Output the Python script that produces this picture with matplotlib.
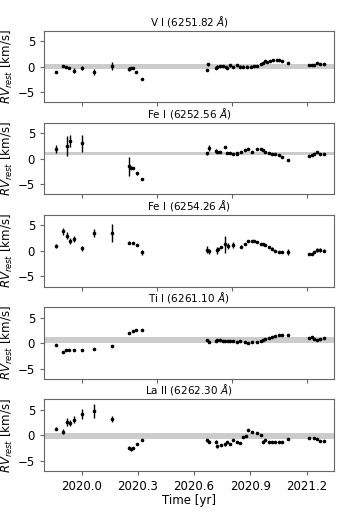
import numpy as np
import matplotlib.pyplot as plt

# line names shown as panel titles
titles = ['V I (6251.82 $\\AA$)', 'Fe I (6252.56 $\\AA$)', 'Fe I (6254.26 $\\AA$)',
          'Ti I (6261.10 $\\AA$)', 'La II (6262.30 $\\AA$)']

# grey band (low, high) for each line
bands = [(-0.55, 0.45), (0.65, 1.4), (0.72, 0.85), (0.0, 1.1), (-0.65, 0.5)]

# V I
t_v = [2019.861, 2019.899, 2019.916, 2019.934, 2019.959, 2020.000, 2020.068, 2020.160,
       2020.254, 2020.263, 2020.272, 2020.292, 2020.320,
       2020.670, 2020.674, 2020.716, 2020.724, 2020.738, 2020.752, 2020.770, 2020.775,
       2020.791, 2020.809, 2020.830, 2020.844, 2020.862, 2020.884, 2020.901, 2020.919,
       2020.937, 2020.955, 2020.969, 2020.978, 2020.987, 2021.004, 2021.022, 2021.040,
       2021.051, 2021.070, 2021.102, 2021.214, 2021.227, 2021.239, 2021.253, 2021.271,
       2021.294]
rv_v = [-1.0, 0.1, -0.1, -0.2, -0.8, -0.3, -1.0, 0.1,
        -0.5, -0.3, -0.3, -1.0, -2.4,
        -0.6, 0.4, -0.3, 0.0, 0.1, 0.1, -0.1, -0.3,
        0.2, -0.1, 0.3, 0.0, 0.0, 0.0, 0.0, 0.1,
        0.1, 0.5, 0.7, 1.1, 0.9, 1.05, 1.2, 1.3,
        1.2, 1.05, 0.7, 0.3, 0.3, 0.35, 0.65, 0.5,
        0.45]
err_v = [0.2, 0.2, 0.2, 0.2, 0.5, 0.4, 0.6, 0.8,
         0.4, 0.2, 0.2, 0.2, 0.2,
         0.2, 0.3] + [0.2] * 31

# Fe I 6252
t_fe1 = [2019.861, 2019.920, 2019.938, 2020.000, 2020.254, 2020.261, 2020.272, 2020.293,
         2020.320,
         2020.670, 2020.677, 2020.716, 2020.724, 2020.738, 2020.766, 2020.773, 2020.791,
         2020.809, 2020.827, 2020.830, 2020.848, 2020.871, 2020.889, 2020.907, 2020.937,
         2020.955, 2020.969, 2020.980, 2020.997, 2021.013, 2021.033, 2021.051, 2021.070,
         2021.102, 2021.214, 2021.227, 2021.239, 2021.253, 2021.271, 2021.294]
rv_fe1 = [1.9, 2.5, 3.4, 3.0, -1.5, -1.8, -1.8, -2.9,
          -3.9,
          1.1, 2.1, 1.6, 1.3, 1.3, 2.2, 1.1, 1.1,
          1.0, 1.2, 1.0, 1.4, 1.75, 1.9, 1.4, 1.95,
          1.95, 1.75, 1.4, 1.2, 1.0, 0.9, 0.65, 0.26,
          -0.2, 0.6, 0.7, 0.85, 1.3, 1.0, 0.9]
err_fe1 = [0.8, 2.0, 1.2, 1.7, 1.8, 0.3, 0.2, 0.2,
           0.2,
           0.3, 0.6] + [0.2] * 29

# Fe I 6254
t_fe2 = [2019.861, 2019.899, 2019.920, 2019.938, 2019.959, 2020.000, 2020.068, 2020.160,
         2020.254, 2020.272, 2020.293, 2020.320,
         2020.670, 2020.677, 2020.720, 2020.729, 2020.741, 2020.766, 2020.780, 2020.809,
         2020.848, 2020.871, 2020.889, 2020.907, 2020.919, 2020.937, 2020.955, 2020.969,
         2020.980, 2020.997, 2021.013, 2021.033, 2021.051, 2021.070, 2021.102, 2021.214,
         2021.227, 2021.239, 2021.253, 2021.271, 2021.294]
rv_fe2 = [1.0, 3.8, 3.0, 2.0, 2.3, 0.5, 3.5, 3.5,
          1.6, 1.5, 1.1, -0.3,
          0.2, -0.1, 0.1, 0.3, 0.7, 1.3, 0.9, 1.2,
          0.85, 1.3, 1.85, 2.0, 2.0, 1.8, 1.4, 1.25,
          1.1, 0.8, 0.46, 0.0, -0.25, -0.3, -0.3, -0.6,
          -0.6, -0.3, 0.1, 0.2, 0.0]
err_fe2 = [0.4, 0.6, 0.6, 0.6, 0.6, 0.5, 0.8, 1.8,
           0.3, 0.2, 0.2, 0.5,
           0.7, 0.5, 0.7, 0.3, 0.2, 1.7, 0.6, 0.6,
           0.2, 0.2, 0.2, 0.2, 0.2, 0.2, 0.2, 0.2,
           0.2, 0.2, 0.2, 0.2, 0.2, 0.2, 0.6, 0.2,
           0.2, 0.2, 0.4, 0.4, 0.3]

# Ti I
t_ti = [2019.861, 2019.899, 2019.916, 2019.934, 2019.959, 2020.000, 2020.068, 2020.160,
        2020.254, 2020.272, 2020.292, 2020.320,
        2020.670, 2020.677, 2020.716, 2020.724, 2020.738, 2020.752, 2020.766, 2020.780,
        2020.791, 2020.809, 2020.830, 2020.844, 2020.871, 2020.889, 2020.907, 2020.937,
        2020.955, 2020.969, 2020.980, 2020.997, 2021.013, 2021.033, 2021.051, 2021.070,
        2021.102, 2021.214, 2021.227, 2021.239, 2021.253, 2021.271, 2021.294]
rv_ti = [-0.33, -1.8, -1.4, -1.4, -1.4, -1.4, -1.13, -0.6,
         2.0, 2.3, 2.6, 2.6,
         0.67, 0.27, 0.47, 0.67, 0.6, 0.47, 0.33, 0.4,
         0.47, 0.33, 0.27, 0.33, 0.27, 0.0, 0.2, 0.2,
         0.47, 0.53, 0.87, 1.0, 1.13, 1.33, 1.53, 1.6,
         1.6, 1.0, 1.2, 0.8, 0.53, 0.87, 0.93]
err_ti = [0.2] * len(t_ti)

# La II
t_la = [2019.861, 2019.899, 2019.920, 2019.938, 2019.959, 2020.000, 2020.068, 2020.160,
        2020.254, 2020.261, 2020.272, 2020.293, 2020.320,
        2020.670, 2020.677, 2020.716, 2020.724, 2020.741, 2020.766, 2020.773, 2020.791,
        2020.809, 2020.830, 2020.844, 2020.862, 2020.876, 2020.889, 2020.907, 2020.937,
        2020.955, 2020.969, 2020.980, 2020.997, 2021.013, 2021.033, 2021.051, 2021.070,
        2021.102, 2021.214, 2021.239, 2021.253, 2021.271, 2021.294]
rv_la = [1.3, 0.7, 2.6, 2.4, 3.0, 4.1, 4.8, 3.2,
         -2.5, -2.8, -2.5, -1.8, -0.9,
         -1.0, -1.3, -1.3, -2.2, -2.0, -1.8, -1.3, -1.8,
         -0.9, -1.3, -1.6, -0.26, -0.13, 1.05, 0.7, 0.4,
         0.0, -1.3, -0.9, -1.25, -1.25, -1.25, -1.3, -1.3,
         -0.66, -0.6, -0.5, -0.8, -1.2, -1.2]
err_la = [0.3, 0.5, 0.7, 0.6, 0.7, 1.0, 1.4, 0.6,
          0.3, 0.2, 0.2, 0.2, 0.2,
          0.3, 0.3, 0.3, 0.3, 0.2, 0.3, 0.2, 0.2,
          0.2, 0.2, 0.2, 0.2, 0.2, 0.2, 0.2, 0.2,
          0.2, 0.3, 0.2, 0.2, 0.2, 0.2, 0.2, 0.2,
          0.2, 0.2, 0.2, 0.2, 0.2, 0.2]

series = [(t_v, rv_v, err_v), (t_fe1, rv_fe1, err_fe1), (t_fe2, rv_fe2, err_fe2),
          (t_ti, rv_ti, err_ti), (t_la, rv_la, err_la)]

bottom_ticks = [2020.0, 2020.3, 2020.6, 2020.9, 2021.2]
frame_col = '0.4'

fig, axes = plt.subplots(5, 1, figsize=(3.42, 5.13), dpi=100)
fig.subplots_adjust(left=0.129, right=0.977, top=0.94, bottom=0.082, hspace=0.29)

for i, ax in enumerate(axes):
    t, rv, err = series[i]
    lo, hi = bands[i]
    ax.axhspan(lo, hi, color='#cccccc', lw=0, zorder=0)
    ax.errorbar(t, rv, yerr=err, fmt='o', color='k', ms=1.6, elinewidth=1,
                capsize=0, zorder=2)
    ax.set_xlim(2019.80, 2021.347)
    ax.set_ylim(-7, 7)
    ax.set_yticks([-5, 0, 5])
    ax.set_title(titles[i], fontsize=7.5, pad=4)
    ax.set_ylabel('$RV_{rest}$ [km/s]', fontsize=8.5, labelpad=2)
    ax.tick_params(labelsize=8.5, length=3, color=frame_col)
    for s in ax.spines.values():
        s.set_color(frame_col)
    if i < 4:
        ax.set_xticks([2020.0, 2020.4, 2020.8, 2021.2])
        ax.set_xticklabels([])
    else:
        ax.set_xticks(bottom_ticks)
        ax.set_xticklabels(['%.1f' % v for v in bottom_ticks])
        ax.set_xlabel('Time [yr]', fontsize=8.5, labelpad=1)

fig.savefig('out.png', dpi=100)
